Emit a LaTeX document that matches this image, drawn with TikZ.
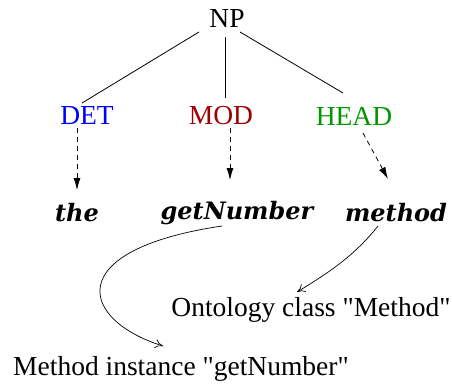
\documentclass[tikz,border=0pt]{standalone}
\usepackage{fontspec}
\setmainfont{Liberation Serif}
\newfontfamily\lserif{Liberation Serif}
\newfontfamily\wordfont{DejaVu Serif}
\usetikzlibrary{arrows.meta}
\begin{document}
\begin{tikzpicture}[x=1pt,y=-1pt,
  lbl/.style={inner sep=0pt,font=\lserif\fontsize{27.5}{32}\selectfont},
  wrd/.style={inner sep=0pt,font=\wordfont\bfseries\itshape\fontsize{24}{28}\selectfont},
  tree/.style={line width=0.8pt},
  dsh/.style={line width=0.8pt,dashed,dash pattern=on 5pt off 4pt,-{Latex[length=12pt,width=7pt]}},
  link/.style={line width=0.7pt,-{To[length=8pt,width=9pt]}}]
\useasboundingbox (0,0) rectangle (452,383);
\node[lbl] (np) at (227,18) {NP};
\node[lbl,text=blue] (det) at (87,116) {DET};
\node[lbl,text={rgb,255:red,160;green,0;blue,0}] (mod) at (221,116) {MOD};
\node[lbl,text={rgb,255:red,0;green,150;blue,0}] (head) at (354,116) {HEAD};
\node[wrd] (the) at (77,213) {the};
\node[wrd] (get) at (237,213) {getNumber};
\node[wrd] (meth) at (396,213) {method};
\node[lbl] (onto) at (311,310) {Ontology class "Method"};
\node[lbl] (inst) at (181,369) {Method instance "getNumber"};
\coordinate (npl) at (199,32);
\coordinate (npm) at (225,37);
\coordinate (npr) at (240,32);
\coordinate (detT) at (82,103);
\coordinate (modT) at (225,98);
\coordinate (headT) at (343,93);
\draw[tree] (npl) -- (detT);
\draw[tree] (npm) -- (modT);
\draw[tree] (npr) -- (headT);
\coordinate (detB) at (77,128);
\coordinate (theT) at (77,190);
\coordinate (modB) at (230,128);
\coordinate (getT) at (230,180);
\coordinate (headB) at (363,133);
\coordinate (methT) at (388,179);
\draw[dsh] (detB) -- (theT);
\draw[dsh] (modB) -- (getT);
\draw[dsh] (headB) -- (methT);
\coordinate (getB) at (222,226);
\coordinate (instT) at (163,346);
\coordinate (methB) at (378,226);
\coordinate (ontoT) at (297,292);
\draw[link] (getB) .. controls (60,250) and (80,320) .. (instT);
\draw[link] (methB) .. controls (355,255) and (330,272) .. (ontoT);
\end{tikzpicture}
\end{document}
